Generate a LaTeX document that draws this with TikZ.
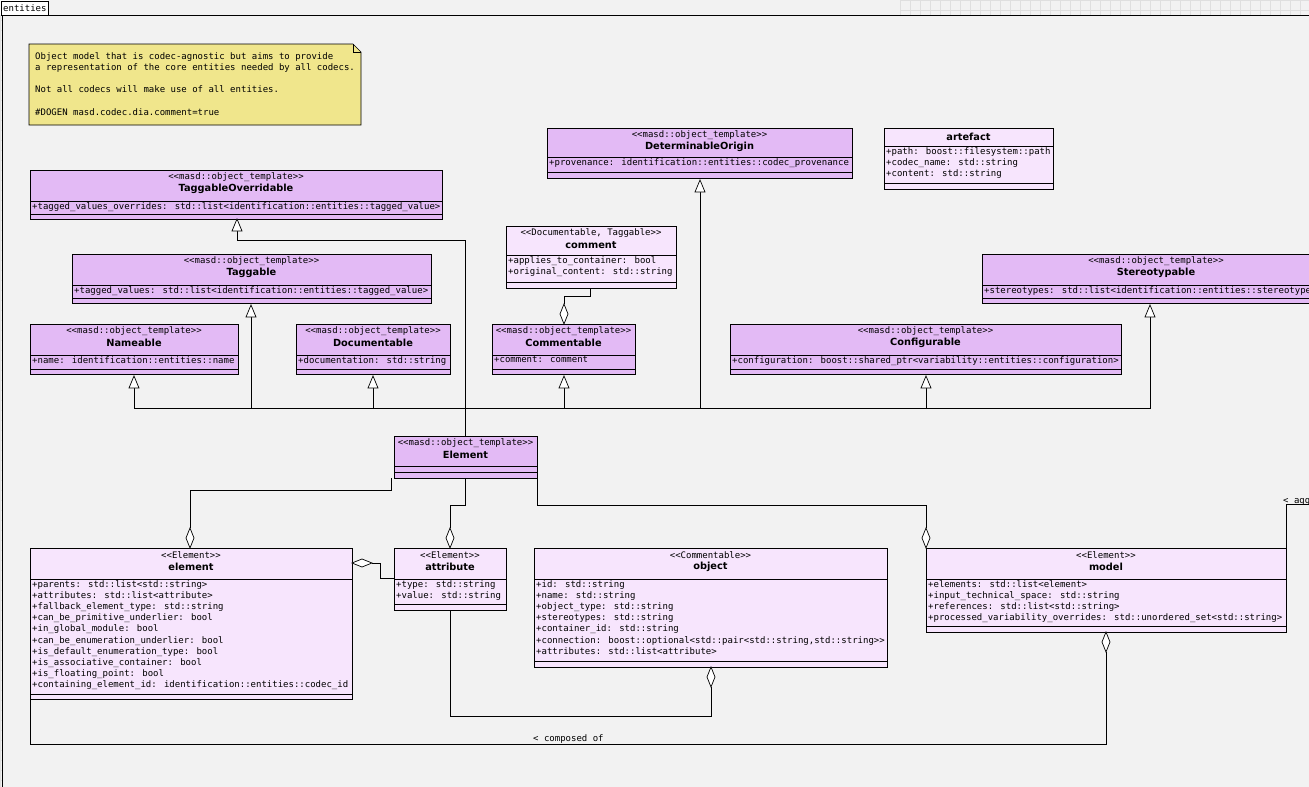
\documentclass[tikz,border=0pt]{standalone}
\usepackage{fontspec}
\setmainfont{DejaVu Sans}
\newfontfamily\monof{DejaVu Sans Mono}
\usetikzlibrary{calc}
\definecolor{bg}{HTML}{F2F2F2}
\definecolor{tpl}{HTML}{E3BAF5}
\definecolor{lite}{HTML}{F7E5FD}
\definecolor{note}{HTML}{F0E68C}
\tikzset{
 mono/.style={font=\monof\fontsize{9.0}{11.2}\selectfont,inner sep=0},
 ster/.style={mono,anchor=center},
 ttl/.style={font=\bfseries\fontsize{9.8}{11}\selectfont,inner sep=0,anchor=center},
 attrs/.style={mono,anchor=north west,align=left},
 conn/.style={line width=0.7pt},
 gen/.style={conn,draw,fill=white},
}
\newcommand\cls[8]{%
 \node[draw,fill=#8,line width=0.8pt,anchor=north west,minimum width={(#4-#2)*1pt},minimum height={(#5-#3)*1pt},inner sep=0] (#1) at (#2,#3) {};
 \draw[line width=0.8pt] (#2,#6) -- (#4,#6) (#2,#7) -- (#4,#7);}
\newcommand\hdr[5]{% x1 y1 x2 stereo title
 \node[ster] at ({(#1+#3)/2},#2+7) {#4};
 \node[ttl] at ({(#1+#3)/2},#2+19) {#5};}
\newcommand\tri[2]{\draw[gen] (#1,#2) -- (#1-5,#2+12) -- (#1+5,#2+12) -- cycle;}
\newcommand\dmdv[2]{\draw[gen] (#1,#2) -- (#1-4,#2+10) -- (#1,#2+20) -- (#1+4,#2+10) -- cycle;}
\begin{document}
\begin{tikzpicture}[x=1pt,y=-1pt]
\useasboundingbox (0,0) rectangle (1309,787);
\clip (0,0) rectangle (1309,787);
\fill[bg] (0,0) rectangle (1309,787);
\draw[gray!25,step=10pt] (900,0) grid (1309,15);
\draw[gray!25,step=10pt] (0,15) grid (3,787);
\fill[white] (0,0) rectangle (48,15);
\draw[line width=0.7pt] (1,15) rectangle (48,1);
\node[mono,anchor=west] (tab) at (3,8) {entities};
\draw[line width=0.7pt] (2,787) -- (2,15) -- (1309,15);
% note
\draw[fill=note,line width=0.7pt] (29,44) -- (353,44) -- (361,52) -- (361,125) -- (29,125) -- cycle;
\draw[line width=0.7pt] (353,44) -- (353,52) -- (361,52);
\node[attrs] (note) at (35,52) {Object model that is codec-agnostic but aims to provide\\a representation of the core entities needed by all codecs.\\[11.2pt]Not all codecs will make use of all entities.\\[11.2pt]\#DOGEN masd.codec.dia.comment=true};
% classes
\cls{dorig}{547}{128}{852}{178}{157}{172}{tpl}\hdr{547}{128}{852}{<<masd::object\_template>>}{DeterminableOrigin}
\node[attrs] at (549,158) {+provenance: identification::entities::codec\_provenance};
\cls{artefact}{884}{128}{1053}{189}{146}{183}{lite}
\node[ttl] at (968.5,137) {artefact};
\node[attrs] at (886,147) {+path: boost::filesystem::path\\+codec\_name: std::string\\+content: std::string};
\cls{tagov}{30}{170}{442}{219}{201}{214}{tpl}\hdr{30}{170}{442}{<<masd::object\_template>>}{TaggableOverridable}
\node[attrs] at (32,202) {+tagged\_values\_overrides: std::list<identification::entities::tagged\_value>};
\cls{comment}{506}{226}{676}{288}{255}{282}{lite}\hdr{506}{226}{676}{<<Documentable, Taggable>>}{comment}
\node[attrs] at (508,256) {+applies\_to\_container: bool\\+original\_content: std::string};
\cls{taggable}{72}{254}{431}{303}{285}{298}{tpl}\hdr{72}{254}{431}{<<masd::object\_template>>}{Taggable}
\node[attrs] at (74,286) {+tagged\_values: std::list<identification::entities::tagged\_value>};
\cls{stereo}{982}{254}{1330}{303}{285}{298}{tpl}\hdr{982}{254}{1330}{<<masd::object\_template>>}{Stereotypable}
\node[attrs] at (984,286) {+stereotypes: std::list<identification::entities::stereotype>};
\cls{nameable}{30}{324}{238}{374}{355}{369}{tpl}\hdr{30}{324}{238}{<<masd::object\_template>>}{Nameable}
\node[attrs] at (32,356) {+name: identification::entities::name};
\cls{docable}{296}{324}{450}{374}{355}{369}{tpl}\hdr{296}{324}{450}{<<masd::object\_template>>}{Documentable}
\node[attrs] at (298,356) {+documentation: std::string};
\cls{comable}{492}{324}{635}{374}{355}{369}{tpl}\hdr{492}{324}{635}{<<masd::object\_template>>}{Commentable}
\node[attrs] at (494,356) {+comment: comment};
\cls{config}{730}{324}{1121}{374}{355}{369}{tpl}\hdr{730}{324}{1121}{<<masd::object\_template>>}{Configurable}
\node[attrs] at (732,356) {+configuration: boost::shared\_ptr<variability::entities::configuration>};
\cls{Elem}{394}{436}{537}{478}{466}{472}{tpl}\hdr{394}{436}{537}{<<masd::object\_template>>}{Element}
\cls{element}{30}{548}{352}{699}{579}{694}{lite}\hdr{30}{548}{352}{<<Element>>}{element}
\node[attrs] at (32,580) {+parents: std::list<std::string>\\+attributes: std::list<attribute>\\+fallback\_element\_type: std::string\\+can\_be\_primitive\_underlier: bool\\+in\_global\_module: bool\\+can\_be\_enumeration\_underlier: bool\\+is\_default\_enumeration\_type: bool\\+is\_associative\_container: bool\\+is\_floating\_point: bool\\+containing\_element\_id: identification::entities::codec\_id};
\cls{attribute}{394}{548}{506}{610}{579}{604}{lite}\hdr{394}{548}{506}{<<Element>>}{attribute}
\node[attrs] at (396,580) {+type: std::string\\+value: std::string};
\cls{object}{534}{548}{887}{667}{579}{661}{lite}\hdr{534}{548}{887}{<<Commentable>>}{object}
\node[attrs] at (536,580) {+id: std::string\\+name: std::string\\+object\_type: std::string\\+stereotypes: std::string\\+container\_id: std::string\\+connection: boost::optional<std::pair<std::string,std::string>>\\+attributes: std::list<attribute>};
\cls{model}{926}{548}{1286}{632}{579}{626}{lite}\hdr{926}{548}{1286}{<<Element>>}{model}
\node[attrs] at (928,580) {+elements: std::list<element>\\+input\_technical\_space: std::string\\+references: std::list<std::string>\\+processed\_variability\_overrides: std::unordered\_set<std::string>};
% generalizations
\draw[conn] (465,436) -- (465,240) -- (237,240) -- (237,231);
\tri{237}{219}
\draw[conn] (134,388) -- (134,408) -- (1150,408) -- (1150,317);
\draw[conn] (251,317) -- (251,408) (373,388) -- (373,408) (564,388) -- (564,408) (700,192) -- (700,408) (926,388) -- (926,408);
\tri{134}{376}\tri{251}{305}\tri{373}{376}\tri{564}{376}\tri{700}{180}\tri{926}{376}\tri{1150}{305}
% aggregations
\draw[conn] (564,304) -- (564,296) -- (590,296) -- (590,288);
\dmdv{564}{304}
\draw[conn] (391,478) -- (391,490) -- (190,490) -- (190,528);
\dmdv{190}{528}
\draw[conn] (465,478) -- (465,505) -- (450,505) -- (450,528);
\dmdv{450}{528}
\draw[conn] (537,478) -- (537,505) -- (926,505) -- (926,528);
\dmdv{926}{528}
\draw[conn] (372,563) -- (380,563) -- (380,578) -- (394,578);
\draw[gen] (352,563) -- (362,559) -- (372,563) -- (362,567) -- cycle;
\draw[conn] (450,610) -- (450,716) -- (711,716) -- (711,687);
\dmdv{711}{667}
\draw[conn] (1106,652) -- (1106,744) -- (30,744) -- (30,699);
\dmdv{1106}{632}
\node[mono,anchor=west] (lbl1) at (533,739) {< composed of};
\draw[conn] (1286,548) -- (1286,504) -- (1309,504);
\node[mono,anchor=west] (lbl2) at (1283,501) {< aggregates};
\end{tikzpicture}
\end{document}
